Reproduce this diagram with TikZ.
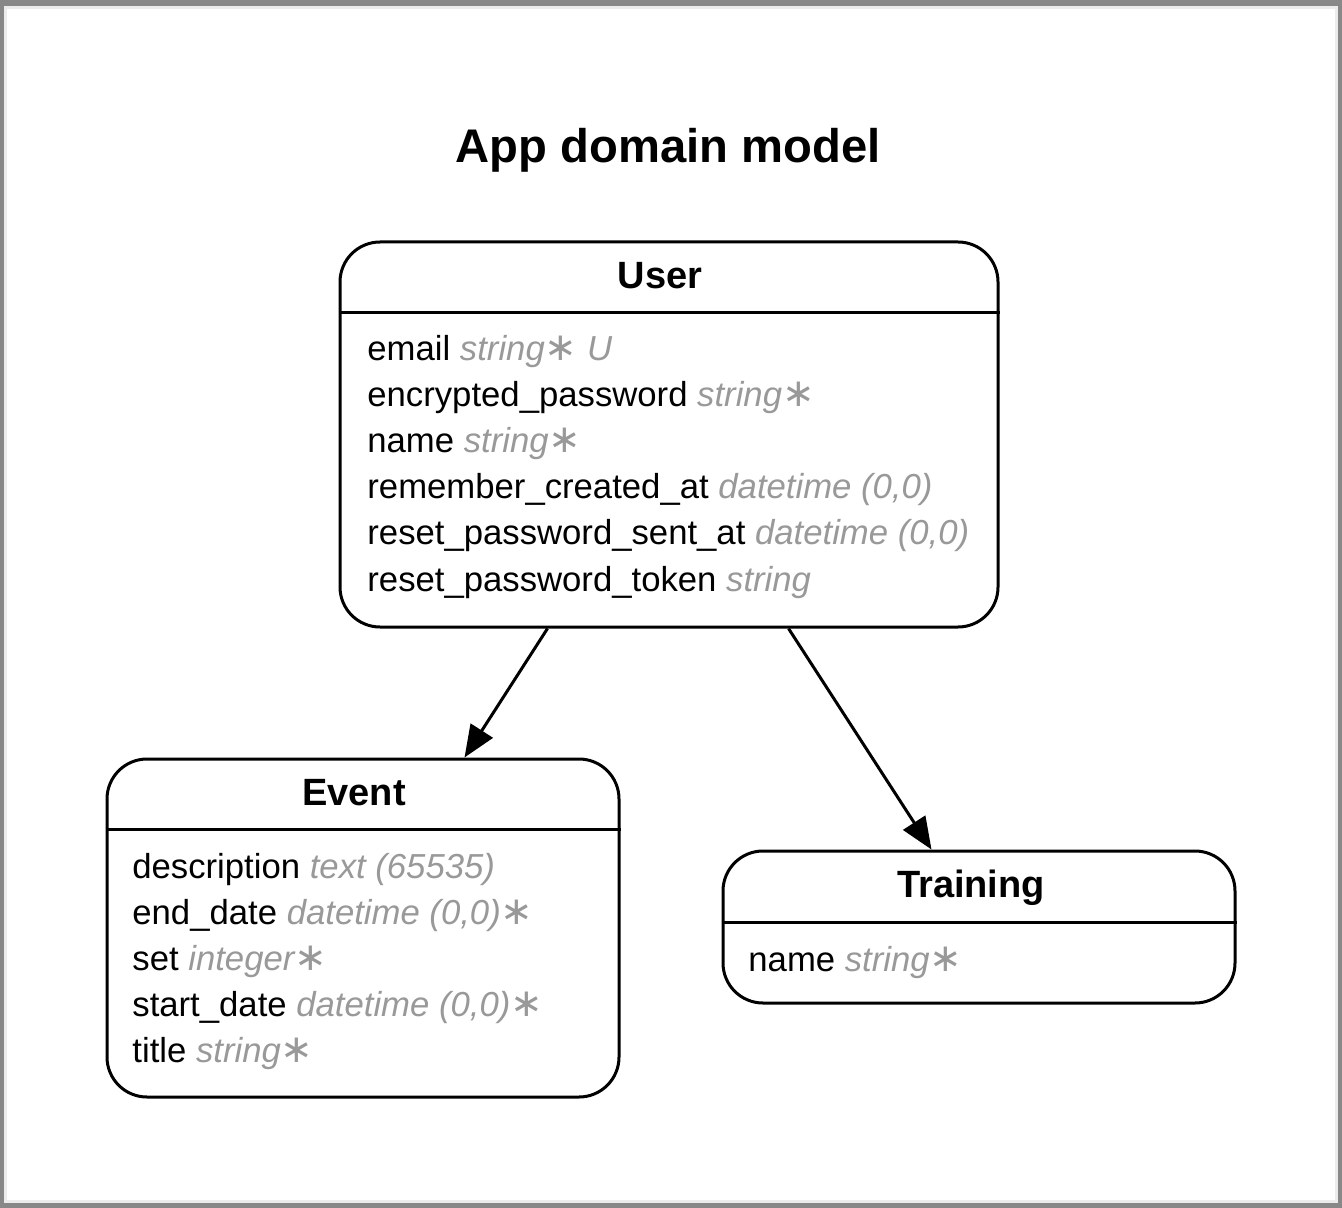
\documentclass[tikz,border=0pt]{standalone}
\usepackage{fontspec}
\setmainfont{Liberation Sans}
\newfontfamily\symfont{DejaVu Sans}
\usetikzlibrary{arrows.meta}
\definecolor{typegray}{RGB}{153,153,153}
\definecolor{framegray}{RGB}{136,136,136}
\definecolor{innerline}{RGB}{236,236,236}
\newcommand\ty[1]{{\color{typegray}\itshape #1}}
\newcommand\reqmark{{\fontsize{19.5}{20}\symfont\upshape ∗}}
\begin{document}
\begin{tikzpicture}[x=0.5pt,y=-0.5pt,
  entity/.style={draw, line width=1.5pt, rounded corners=20pt, fill=white, inner sep=0pt},
  hdr/.style={anchor=base, font=\fontsize{19}{22}\selectfont\bfseries, inner sep=0pt},
  attr/.style={anchor=base west, font=\fontsize{17.35}{21}\selectfont, inner sep=0pt},
  rel/.style={line width=1.5pt, -{Triangle[length=16pt,width=13pt]}},
  sepline/.style={line width=1.5pt}]
\useasboundingbox (0,0) rectangle (1342,1208);
\fill[framegray] (0,0) rectangle (1342,1208);
\fill[white, draw=innerline, line width=1.5pt] (5.5,7.5) rectangle (1336.5,1201.5);

\node[font=\fontsize{23.6}{28}\selectfont\bfseries, anchor=base, inner sep=0pt] (title) at (668,163) {App domain model};

% User
\node[entity, minimum width=329pt, minimum height=192.5pt] (user) at (669,434.5) {};
\node[hdr] (userh) at (660,288.6) {User};
\draw[sepline] (user.west |- 0,313) -- (user.east |- 0,313);
\node[attr] (u1) at (367,360) {email \ty{string\reqmark{} U}};
\node[attr] (u2) at (367,406.2) {encrypted\_password \ty{string\reqmark}};
\node[attr] (u3) at (367,452.4) {name \ty{string\reqmark}};
\node[attr] (u4) at (367,498.6) {remember\_created\_at \ty{datetime (0,0)}};
\node[attr] (u5) at (367,544.8) {reset\_password\_sent\_at \ty{datetime (0,0)}};
\node[attr] (u6) at (367,591) {reset\_password\_token \ty{string}};

% Event
\node[entity, minimum width=256pt, minimum height=169pt] (event) at (363,928) {};
\node[hdr] (eventh) at (354,805.6) {Event};
\draw[sepline] (event.west |- 0,829) -- (event.east |- 0,829);
\node[attr] (e1) at (132,878) {description \ty{text (65535)}};
\node[attr] (e2) at (132,924.2) {end\_date \ty{datetime (0,0)\reqmark}};
\node[attr] (e3) at (132,970.4) {set \ty{integer\reqmark}};
\node[attr] (e4) at (132,1016.6) {start\_date \ty{datetime (0,0)\reqmark}};
\node[attr] (e5) at (132,1062.8) {title \ty{string\reqmark}};

% Training
\node[entity, minimum width=256pt, minimum height=76pt] (training) at (979,927) {};
\node[hdr] (trainingh) at (971,897.6) {Training};
\draw[sepline] (training.west |- 0,922) -- (training.east |- 0,922);
\node[attr] (t1) at (748,971) {name \ty{string\reqmark}};

% Relations
\coordinate (ue) at ([xshift=104.5pt]user.south west);
\coordinate (ut) at ([xshift=225pt]user.south west);
\draw[rel] (ue) -- ([xshift=179.5pt]event.north west);
\draw[rel] (ut) -- ([xshift=105pt]training.north west);
\end{tikzpicture}
\end{document}
